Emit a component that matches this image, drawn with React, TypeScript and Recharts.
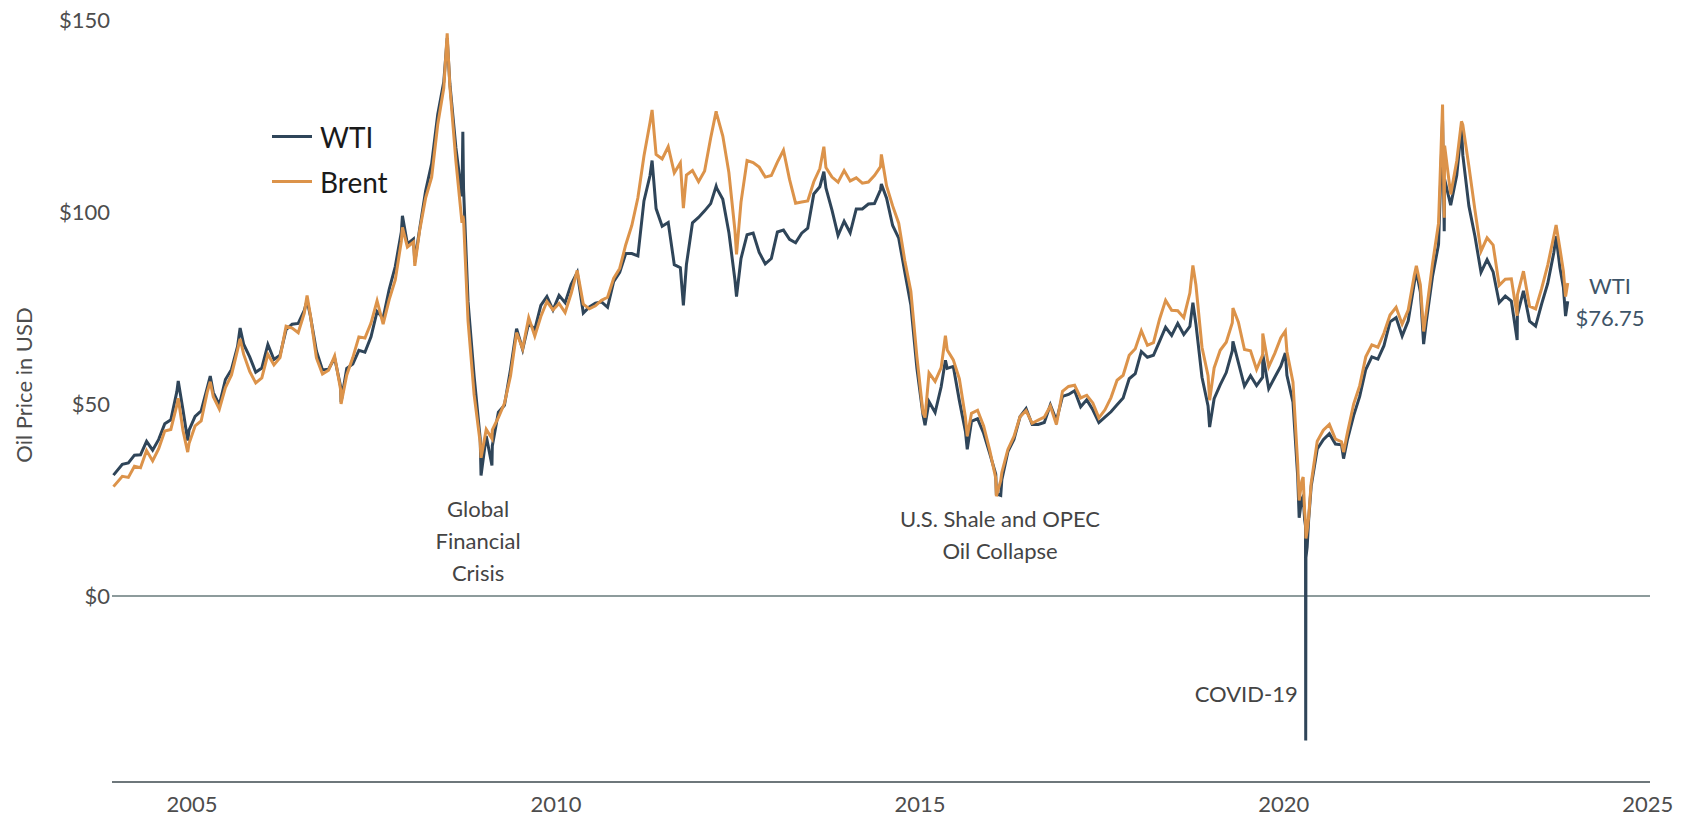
import React from 'react';
import {
  LineChart,
  Line,
  XAxis,
  YAxis,
  ReferenceLine,
  ReferenceDot,
} from 'recharts';

// monthly values, Jan 2004 .. Oct 2023 (null = months drawn from daily points below)
const WTI_MONTHLY: (number | null)[] = [
  // 2004
  34.3, 34.7, 36.7, 36.8, 40.3, 38.0, 40.8, 44.9, 45.9, 53.3, 48.5, 43.2,
  // 2005
  46.8, 48.2, 54.2, 53.0, 49.8, 56.4, 59.0, 65.0, 65.6, 62.3, 58.3, 59.4,
  // 2006
  65.5, 61.6, 62.7, 69.4, 70.8, 71.0, 74.4, 73.0, 63.8, 58.9, 59.1, 62.0,
  // 2007
  54.5, 59.3, 60.4, 64.0, 63.5, 67.5, 74.1, 72.4, 79.9, 85.8, 94.8, 91.7,
  // 2008
  93.0, 95.4, 105.5, 112.6, 125.4, 133.9, 133.4, 116.7, 104.1, 76.6, 57.3, 41.1,
  // 2009
  41.7, 39.1, 47.9, 49.7, 59.0, 69.6, 64.2, 71.1, 69.4, 75.7, 78.0, 74.5,
  // 2010
  78.3, 76.4, 81.2, 84.3, 73.7, 75.3, 76.3, 76.6, 75.2, 81.9, 84.3, 89.2,
  // 2011
  89.2, 88.6, 102.9, 109.5, 100.9, 96.3, 97.3, 86.3, 85.5, 86.3, 97.2, 98.6,
  // 2012
  100.3, 102.2, 106.2, 103.3, 94.7, 82.3, 87.9, 94.1, 94.5, 89.5, 86.5, 87.9,
  // 2013
  94.8, 95.3, 92.9, 92.0, 94.5, 95.8, 104.7, 106.6, 106.3, 100.5, 93.9, 97.6,
  // 2014
  94.6, 100.8, 100.8, 102.1, 102.2, 105.8, 103.6, 96.5, 93.2, 84.4, 75.8, 59.3,
  // 2015
  47.2, 50.6, 47.8, 54.5, 59.3, 59.8, 50.9, 42.9, 45.5, 46.2, 42.4, 37.2,
  // 2016
  31.7, 30.3, 37.6, 40.8, 46.7, 48.8, 44.7, 44.7, 45.2, 49.8, 45.7, 52.0,
  // 2017
  52.5, 53.5, 49.3, 51.1, 48.5, 45.2, 46.6, 48.0, 49.8, 51.6, 56.6, 57.9,
  // 2018
  63.7, 62.2, 62.7, 66.3, 70.0, 67.9, 71.0, 68.1, 70.2, 70.8, 57.0, 49.5,
  // 2019
  51.4, 55.0, 58.2, 63.9, 60.8, 54.7, 57.4, 54.8, 57.0, 54.0, 57.0, 59.9,
  // 2020
  57.5, 50.5, null, null, 28.6, 38.3, 40.7, 42.3, 39.6, 39.4, 40.9, 47.0,
  // 2021
  52.0, 59.0, 62.3, 61.7, 65.2, 71.4, 72.5, 67.7, 71.7, 81.5, 79.2, 71.7,
  // 2022
  83.2, 91.6, 108.5, 101.8, 109.6, 114.8, 101.6, 93.7, 84.3, 87.6, 84.4, 76.4,
  // 2023
  78.1, 76.8, 73.3, 79.5, 71.6, 70.3, 76.1, 81.4, 89.4, 85.6,
];

const BRENT_MONTHLY: (number | null)[] = [
  // 2004
  31.2, 30.9, 33.8, 33.4, 37.9, 35.2, 38.4, 43.0, 43.4, 49.8, 43.1, 39.7,
  // 2005
  44.3, 45.6, 53.1, 51.9, 48.7, 54.3, 57.6, 64.1, 63.0, 58.5, 55.5, 56.8,
  // 2006
  63.0, 60.2, 62.1, 70.3, 69.8, 68.6, 73.7, 73.2, 62.0, 57.8, 58.8, 62.5,
  // 2007
  53.7, 57.6, 62.1, 67.5, 67.2, 71.1, 76.9, 70.8, 77.2, 82.3, 92.4, 90.9,
  // 2008
  92.2, 95.0, 103.6, 109.1, 122.8, 132.3, 132.7, 113.2, 97.2, 71.6, 52.5, 40.0,
  // 2009
  43.4, 43.3, 46.5, 50.2, 57.3, 68.6, 64.4, 72.5, 67.7, 72.8, 76.7, 74.5,
  // 2010
  76.2, 73.8, 78.8, 84.8, 76.0, 74.8, 75.6, 77.0, 77.8, 82.7, 85.3, 91.5,
  // 2011
  96.5, 103.7, 114.6, 123.3, 115.0, 113.8, 117.0, 110.2, 112.8, 109.6, 110.8, 107.9,
  // 2012
  110.7, 119.3, 125.5, 119.8, 110.3, 95.2, 102.6, 113.4, 112.9, 111.7, 109.1, 109.5,
  // 2013
  113.0, 116.1, 108.5, 102.3, 102.6, 102.9, 107.9, 111.3, 111.6, 109.1, 107.8, 110.8,
  // 2014
  108.1, 108.9, 107.5, 107.8, 109.5, 111.8, 106.8, 101.6, 97.1, 87.4, 79.4, 62.3,
  // 2015
  47.8, 58.1, 55.9, 59.5, 64.1, 61.5, 56.6, 46.5, 47.6, 48.4, 44.3, 38.0,
  // 2016
  30.7, 32.2, 38.2, 41.6, 46.7, 48.3, 45.0, 45.8, 46.6, 49.5, 44.7, 53.3,
  // 2017
  54.6, 54.9, 51.6, 52.3, 50.3, 46.4, 48.5, 51.7, 56.2, 57.5, 62.7, 64.4,
  // 2018
  69.1, 65.3, 66.0, 72.1, 77.0, 74.4, 74.3, 72.5, 78.9, 81.0, 64.8, 57.4,
  // 2019
  59.4, 64.0, 66.1, 71.2, 71.3, 64.2, 63.9, 59.0, 62.8, 59.7, 63.2, 67.3,
  // 2020
  63.7, 55.7, null, null, 29.4, 40.3, 43.2, 44.7, 40.9, 40.2, 42.7, 50.0,
  // 2021
  54.8, 62.3, 65.4, 64.8, 68.5, 73.2, 75.2, 70.8, 74.5, 83.5, 81.1, 74.2,
  // 2022
  86.5, 97.1, 117.3, 104.6, 113.3, 122.7, 111.9, 100.5, 89.8, 93.3, 91.4, 80.9,
  // 2023
  82.5, 82.6, 78.4, 84.6, 75.5, 74.8, 80.1, 86.2, 93.7, 90.6,
];

// daily highs / lows that stand out in the picture (decimal year)
const DAILY_T = [
  2003.92, 2004.81, 2004.94, 2005.25, 2005.66, 2006.58, 2007.047, 2007.89, 2008.06, 2008.505,
  2008.72, 2008.73, 2008.97, 2009.12, 2011.32, 2011.75, 2012.2, 2012.48, 2013.68, 2014.47,
  2015.07, 2015.35, 2015.65, 2016.05, 2016.11, 2018.75, 2018.98, 2019.3, 2019.71, 2020.02,
  2020.19, 2020.21, 2020.245, 2020.265, 2020.285, 2020.297, 2020.3, 2020.303, 2020.32, 2020.34,
  2020.82, 2021.82, 2021.92, 2022.18, 2022.203, 2022.44, 2023.205, 2023.74, 2023.84, 2023.87,
  2023.9,
];
const DAILY_WTI = [
  31.5, 56.0, 40.5, 57.3, 69.8, 77.0, 50.5, 99.0, 87.0, 145.3,
  120.9, 106.0, 31.4, 34.0, 113.4, 75.7, 106.7, 78.0, 110.5, 107.3,
  44.5, 61.4, 38.2, 26.6, 26.2, 76.4, 44.0, 66.3, 63.0, 63.3,
  31.1, 20.4, 25.3, 26.0, 19.9, 18.3, -37.6, 10.0, 12.8, 19.8,
  35.8, 84.6, 65.6, 123.7, 95.0, 122.1, 66.7, 93.7, 80.4, 72.9,
  76.75,
];
const DAILY_BRENT = [
  28.5, 51.5, 37.5, 55.8, 67.0, 78.3, 50.0, 96.0, 86.0, 146.5,
  99.0, 98.0, 36.0, 41.0, 126.6, 101.0, 126.2, 89.0, 117.0, 115.0,
  46.5, 67.8, 41.6, 26.0, 30.1, 86.1, 51.0, 75.0, 68.4, 69.0,
  34.4, 24.9, 29.9, 31.0, 22.0, 19.5, 17.4, 15.0, 17.0, 20.5,
  37.5, 86.0, 68.9, 128.0, 98.5, 123.6, 73.0, 96.6, 84.6, 78.0,
  81.5,
];

const YEAR_TICKS = [2005, 2010, 2015, 2020, 2025];
const PRICE_TICKS = [0, 50, 100, 150];

const NOTES = [
  { t: 2008.93, v: 22.9, lines: ['Global', 'Financial', 'Crisis'], anchor: 'middle' },
  { t: 2016.1, v: 20.3, lines: ['U.S. Shale and OPEC', 'Oil Collapse'], anchor: 'middle' },
  { t: 2020.19, v: -25.3, lines: ['COVID-19'], anchor: 'end' },
  { t: 2024.48, v: 81, lines: ['WTI', '$76.75'], anchor: 'middle', dark: true },
];

type Row = { t: number; wti: number; brent: number };

const rows: Row[] = [];
WTI_MONTHLY.forEach((w, i) => {
  const b = BRENT_MONTHLY[i];
  if (w == null || b == null) return;
  rows.push({ t: 2004 + (i + 0.5) / 12, wti: w, brent: b });
});
DAILY_T.forEach((t, i) => rows.push({ t, wti: DAILY_WTI[i], brent: DAILY_BRENT[i] }));
rows.sort((a, b) => a.t - b.t);

const FONT = 'Lato, "Open Sans", sans-serif';
const TICK_COLOR = '#4d4d4d';
const WTI_COLOR = '#2f4559';
const BRENT_COLOR = '#dc934a';

const SERIES = [
  { key: 'wti', name: 'WTI', color: WTI_COLOR },
  { key: 'brent', name: 'Brent', color: BRENT_COLOR },
];

const NoteLabel = ({ viewBox, note }: any) => {
  const cx = viewBox.x + (viewBox.width || 0) / 2;
  const cy = viewBox.y + (viewBox.height || 0) / 2;
  return (
    <g>
      {note.lines.map((line: string, i: number) => (
        <text
          key={line}
          x={cx}
          y={cy + i * 32}
          textAnchor={note.anchor}
          dominantBaseline='central'
          fontFamily={FONT}
          fontSize={22}
          fill={note.dark ? '#3e5468' : '#444'}
        >
          {line}
        </text>
      ))}
    </g>
  );
};

export default function App() {
  return (
    <div style={{ position: 'absolute', left: 0, top: 0, width: 1690, height: 818, background: '#fff' }}>
      <LineChart
        width={1690}
        height={818}
        data={rows}
        margin={{ top: 20, right: 40, bottom: 0, left: 0 }}
      >
        <XAxis
          dataKey='t'
          type='number'
          domain={[2003.9, 2025.03]}
          ticks={YEAR_TICKS}
          allowDataOverflow
          height={36}
          tickLine={false}
          tickSize={0}
          tickMargin={14}
          axisLine={{ stroke: '#6e777b', strokeWidth: 2 }}
          tick={{ fill: TICK_COLOR, fontSize: 22, fontFamily: FONT }}
        />
        <YAxis
          type='number'
          domain={[-48.4, 150]}
          ticks={PRICE_TICKS}
          allowDataOverflow
          width={112}
          axisLine={false}
          tickLine={false}
          tickSize={0}
          tickMargin={2}
          tickFormatter={(v: number) => `$${v}`}
          tick={{ fill: TICK_COLOR, fontSize: 22, fontFamily: FONT }}
          label={() => (
            <text
              x={23}
              y={385}
              transform='rotate(-90 23 385)'
              textAnchor='middle'
              dominantBaseline='central'
              fontFamily={FONT}
              fontSize={22}
              fill={TICK_COLOR}
            >
              Oil Price in USD
            </text>
          )}
        />
        <ReferenceLine y={0} stroke='#8d9b9c' strokeWidth={2} />
        {SERIES.map((s) => (
          <Line
            key={s.key}
            type='linear'
            dataKey={s.key}
            name={s.name}
            stroke={s.color}
            strokeWidth={3}
            dot={false}
            isAnimationActive={false}
          />
        ))}
        {NOTES.map((n) => (
          <ReferenceDot
            key={n.lines[0]}
            x={n.t}
            y={n.v}
            r={0}
            fill='none'
            stroke='none'
            label={(props: any) => <NoteLabel {...props} note={n} />}
          />
        ))}
      </LineChart>
      <div style={{ position: 'absolute', left: 272, top: 114, fontFamily: FONT }}>
        {SERIES.map((s) => (
          <div key={s.key} style={{ display: 'flex', alignItems: 'center', height: 45 }}>
            <span style={{ width: 40, height: 3, background: s.color, marginRight: 8 }} />
            <span style={{ fontSize: 28, color: '#1a1a1a' }}>{s.name}</span>
          </div>
        ))}
      </div>
    </div>
  );
}
